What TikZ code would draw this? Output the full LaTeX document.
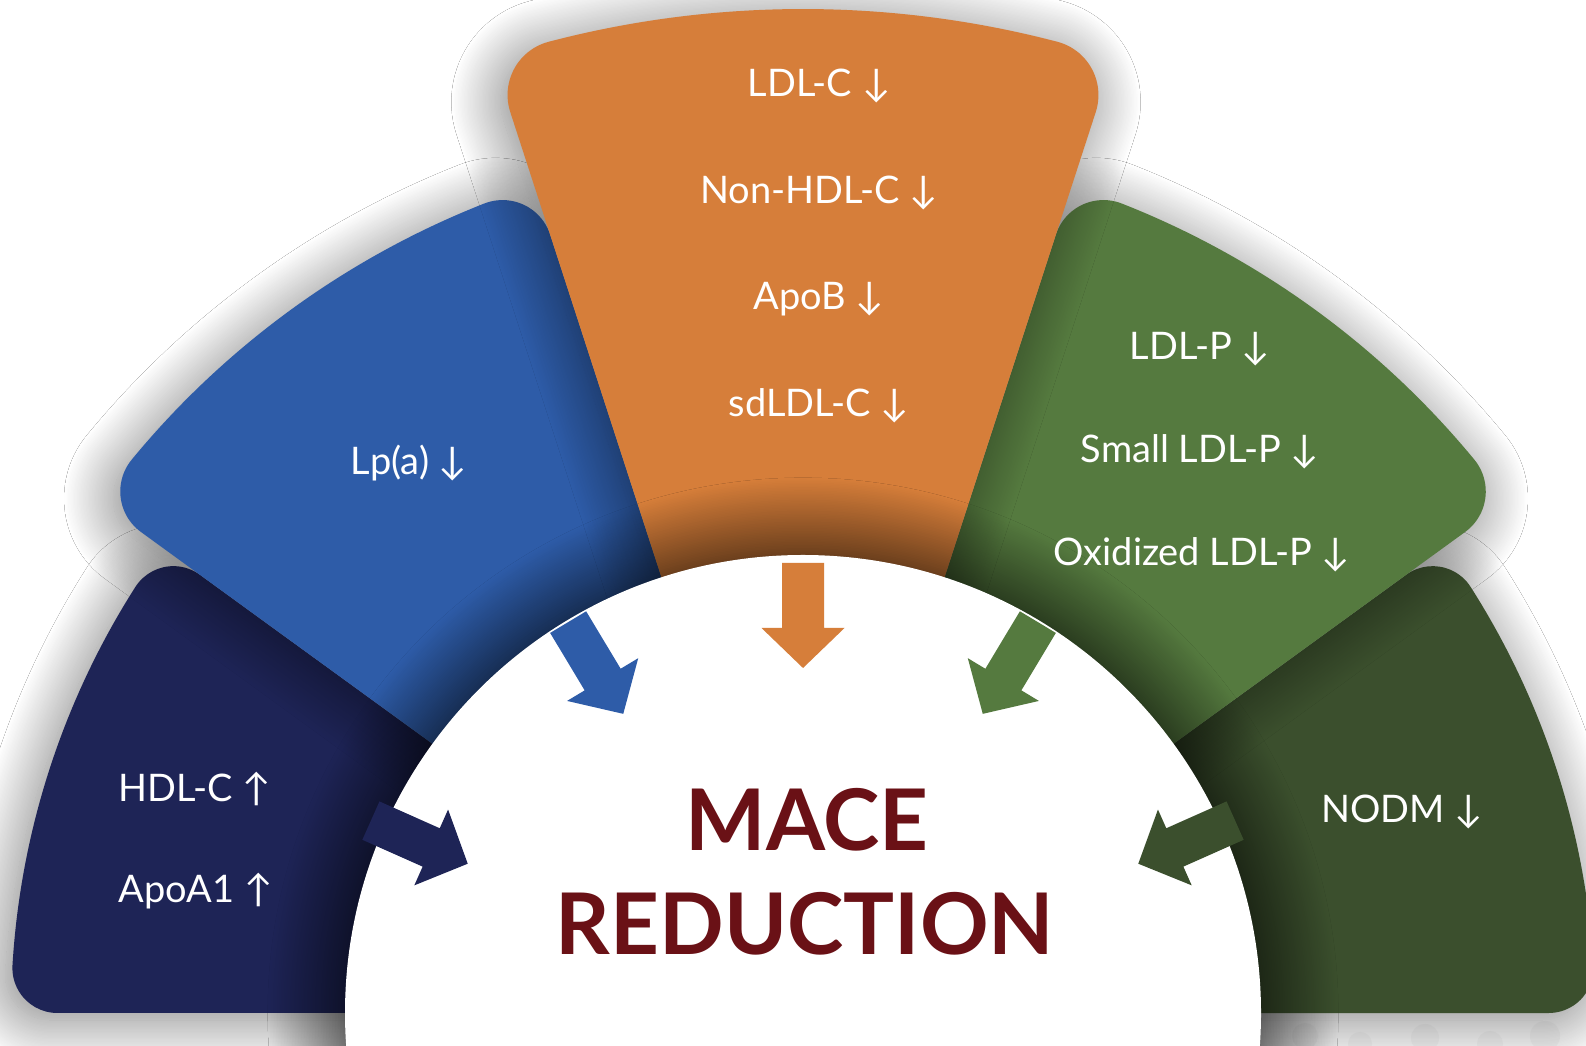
\documentclass[tikz,border=0pt]{standalone}
\usepackage{fontspec}
\setmainfont{Lato}
\usetikzlibrary{shadows.blur}
\definecolor{cnavy}{RGB}{30,36,86}
\definecolor{cblue}{RGB}{46,92,168}
\definecolor{corange}{RGB}{214,126,58}
\definecolor{cgreen}{RGB}{85,122,63}
\definecolor{cdkgreen}{RGB}{59,79,45}
\definecolor{cmaroon}{RGB}{106,17,22}
\newcommand{\sectorfill}[5]{%
  \pgfmathsetmacro\secdelta{asin(#5/(#4-#5))}%
  \pgfmathsetmacro\secdist{(#4-#5)*cos(\secdelta)}%
  \pgfmathsetmacro\secA{#3+90}%
  \pgfmathsetmacro\secB{#3-\secdelta}%
  \pgfmathsetmacro\secC{#2+\secdelta}%
  \pgfmathsetmacro\secD{#2-90}%
  \fill[#1] (0,0) -- (#3:\secdist) arc[start angle=\secA, end angle=\secB, radius=#5]
     arc[start angle=\secB, end angle=\secC, radius=#4]
     arc[start angle=\secC, end angle=\secD, radius=#5] -- cycle;}
\newcommand{\blockarrow}[4]{%
  \pgfmathsetmacro\arh{#4+0.40}%
  \fill[#1, rotate=#2] (#3,0.21) -- (\arh,0.21) -- (\arh,0.415) -- (#4,0) -- (\arh,-0.415) -- (\arh,-0.21) -- (#3,-0.21) -- cycle;}
\tikzset{
  wedgeshadow/.style={blur shadow={shadow xshift=-2pt, shadow yshift=-2pt, shadow blur radius=14pt, shadow blur steps=40, shadow opacity=50}},
  circshadow/.style={blur shadow={shadow xshift=0pt, shadow yshift=0pt, shadow blur radius=22pt, shadow blur steps=50, shadow opacity=100}},
  lbl/.style={text=white, font=\fontsize{10.8}{12}\selectfont, inner sep=0pt},
  big/.style={text=cmaroon, font=\fontsize{24.2}{29.6}\selectfont\bfseries, inner sep=0pt},
  bokeh/.style={fill=black!8, opacity=0.35}
}
\begin{document}
\begin{tikzpicture}
\useasboundingbox (0,0) rectangle (15.86,10.46);
\clip (0,0) rectangle (15.86,10.46);
\fill[white] (0,0) rectangle (15.86,10.46);
\fill[bokeh] (13.05,0.1) circle[radius=0.13];
\fill[bokeh] (13.6,0.02) circle[radius=0.12];
\fill[bokeh] (14.25,0.08) circle[radius=0.14];
\fill[bokeh] (14.9,0.02) circle[radius=0.13];
\fill[bokeh] (15.45,0.1) circle[radius=0.15];
\begin{scope}[shift={(8.03,0.33)}]
  \sectorfill{cnavy, wedgeshadow}{144}{180}{7.92}{0.45}
  \sectorfill{cdkgreen, wedgeshadow}{0}{36}{7.92}{0.45}
  \sectorfill{cblue, wedgeshadow}{108}{144}{8.7}{0.5}
  \sectorfill{cgreen, wedgeshadow}{36}{72}{8.7}{0.5}
  \sectorfill{corange, wedgeshadow}{72}{108}{10.04}{0.55}
  \fill[white, circshadow] (0,0) circle[radius=4.58];
  \blockarrow{cnavy}{156}{4.73}{3.67}
  \blockarrow{cblue}{121}{4.56}{3.49}
  \blockarrow{corange}{90}{4.50}{3.45}
  \blockarrow{cgreen}{59}{4.56}{3.49}
  \blockarrow{cdkgreen}{24}{4.73}{3.67}
\end{scope}
\node[lbl, anchor=base] (t1) at (8.19,9.493) {LDL-C ↓};
\node[lbl, anchor=base] (t2) at (8.19,8.428) {Non-HDL-C ↓};
\node[lbl, anchor=base] (t3) at (8.19,7.363) {ApoB ↓};
\node[lbl, anchor=base] (t4) at (8.19,6.298) {sdLDL-C ↓};
\node[lbl, anchor=base] (t5) at (4.09,5.71) {Lp(a) ↓};
\node[lbl, anchor=base west] (t6) at (1.18,2.44) {HDL-C ↑};
\node[lbl, anchor=base west] (t7) at (1.18,1.43) {ApoA1 ↑};
\node[lbl, anchor=base] (t8) at (12.0,6.86) {LDL-P ↓};
\node[lbl, anchor=base] (t9) at (12.0,5.83) {Small LDL-P ↓};
\node[lbl, anchor=base] (t10) at (12.02,4.80) {Oxidized LDL-P ↓};
\node[lbl, anchor=base] (t11) at (14.02,2.23) {NODM ↓};
\node[big, anchor=base] (m1) at (8.07,1.95) {MACE};
\node[big, anchor=base] (m2) at (8.05,0.91) {REDUCTION};
\end{tikzpicture}
\end{document}
